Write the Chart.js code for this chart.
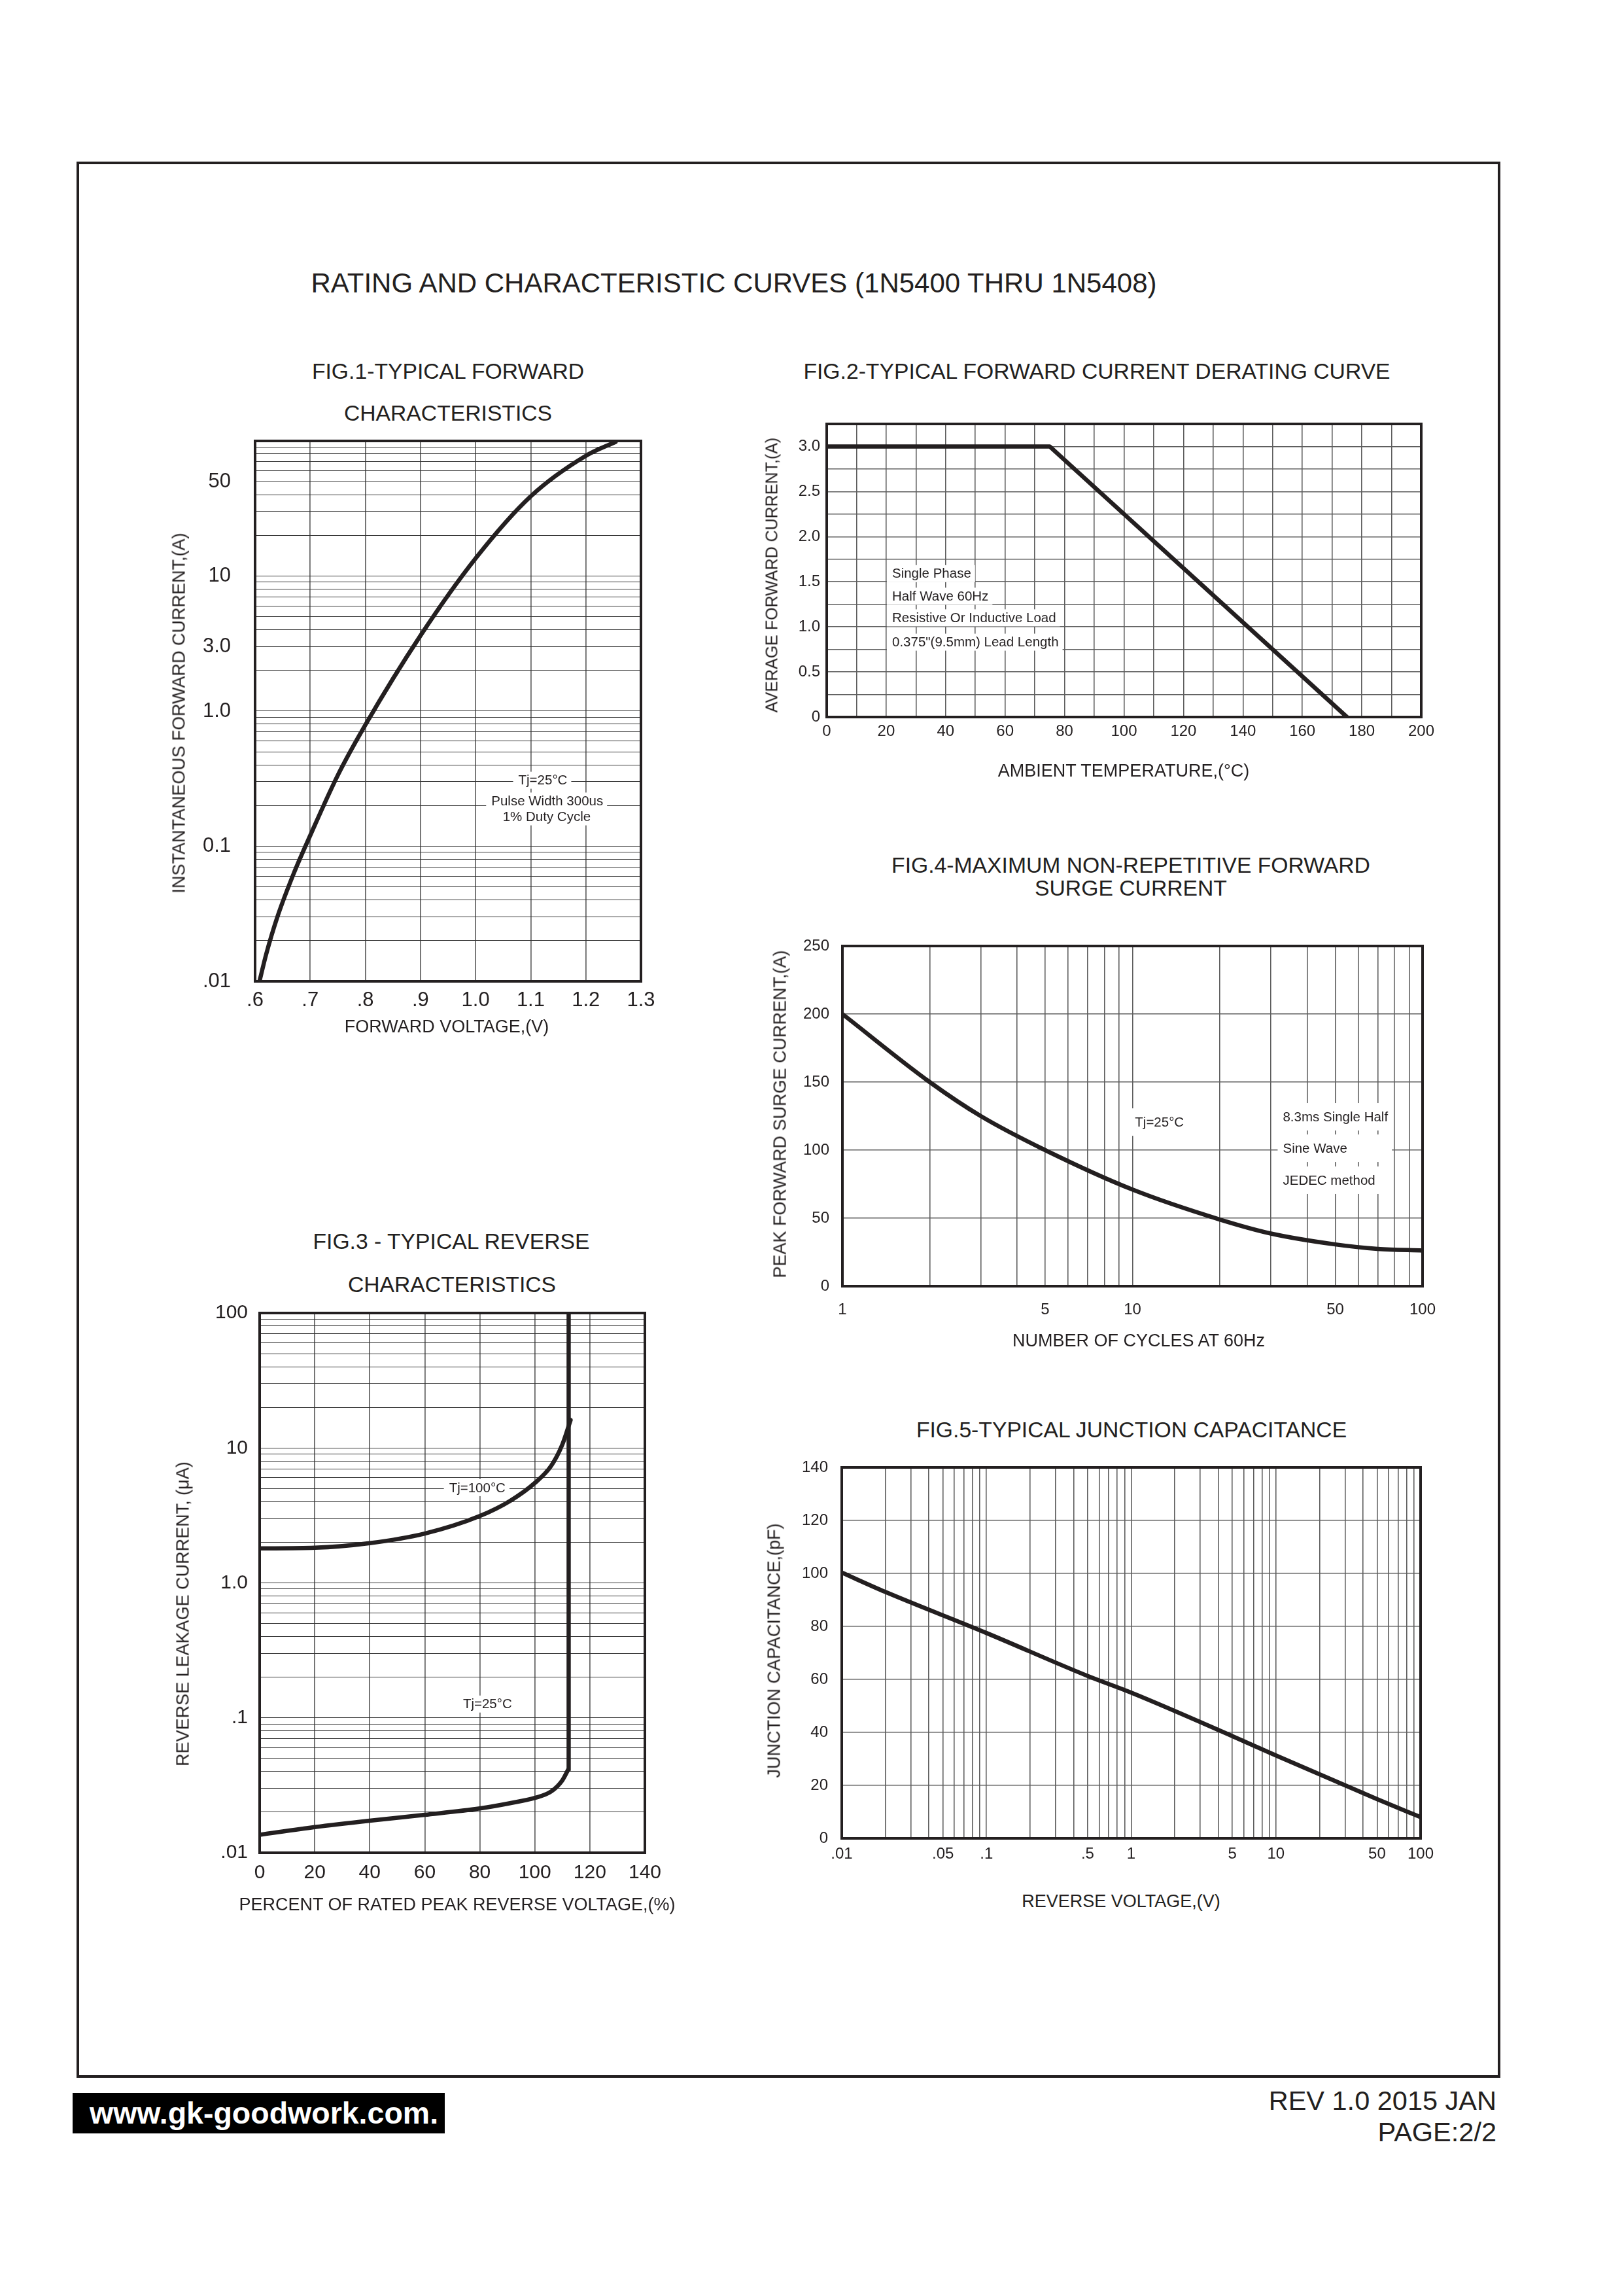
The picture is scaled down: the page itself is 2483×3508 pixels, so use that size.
<!DOCTYPE html>
<html lang="en">
<head>
<meta charset="utf-8">
<title>1N5400 THRU 1N5408 - Rating and Characteristic Curves</title>
<script src="https://cdn.jsdelivr.net/npm/chart.js@4.4.1/dist/chart.umd.min.js"></script>
<style>
  html, body { margin: 0; padding: 0; background: #fff; }
  #page { position: relative; width: 2483px; height: 3508px; overflow: hidden; background: #fff;
          font-family: 'Liberation Sans', Arial, Helvetica, sans-serif; color: #231f20; }
  #frame { position: absolute; left: 117px; top: 247px; width: 2177px; height: 2929px;
           border: 4px solid #231f20; box-sizing: border-box; }
  .t { position: absolute; white-space: nowrap; line-height: 1; transform: translate(-50%, -50%); }
  .v { transform: translate(-50%, -50%) rotate(-90deg); }
  .r { transform: translate(-100%, -50%); }
  canvas { position: absolute; }
  #web { position: absolute; left: 111px; top: 3199px; width: 569px; height: 62px; background: #000;
         color: #fff; font-weight: bold; font-size: 46.5px; line-height: 62px; padding-left: 26px;
         box-sizing: border-box; white-space: nowrap; }
</style>
</head>
<body>
<div id="page">
  <div id="frame"></div>
  <div class="t" style="left:1122px;top:433px;font-size:42px">RATING AND CHARACTERISTIC CURVES (1N5400 THRU 1N5408)</div>

  <!-- FIG.1 -->
  <div class="t" style="left:685px;top:568px;font-size:33.7px">FIG.1-TYPICAL FORWARD</div>
  <div class="t" style="left:685px;top:632px;font-size:33.7px">CHARACTERISTICS</div>
  <canvas id="fig1"></canvas>
  <div class="t" style="left:683px;top:1569px;font-size:27px">FORWARD VOLTAGE,(V)</div>
  <div class="t v" style="left:274px;top:1090px;font-size:27px">INSTANTANEOUS FORWARD CURRENT,(A)</div>

  <!-- FIG.2 -->
  <div class="t" style="left:1677px;top:568px;font-size:33.7px">FIG.2-TYPICAL FORWARD CURRENT DERATING CURVE</div>
  <canvas id="fig2"></canvas>
  <div class="t" style="left:1718px;top:1178px;font-size:27px">AMBIENT TEMPERATURE,(°C)</div>
  <div class="t v" style="left:1180px;top:879px;font-size:25px">AVERAGE FORWARD CURRENT,(A)</div>

  <!-- FIG.4 -->
  <div class="t" style="left:1729px;top:1323px;font-size:33.7px">FIG.4-MAXIMUM NON-REPETITIVE FORWARD</div>
  <div class="t" style="left:1729px;top:1358px;font-size:33.7px">SURGE CURRENT</div>
  <canvas id="fig4"></canvas>
  <div class="t" style="left:1741px;top:2049px;font-size:27px">NUMBER OF CYCLES AT 60Hz</div>
  <div class="t v" style="left:1193px;top:1703px;font-size:27px">PEAK FORWARD SURGE CURRENT,(A)</div>

  <!-- FIG.3 -->
  <div class="t" style="left:690px;top:1898px;font-size:33.7px">FIG.3 - TYPICAL REVERSE</div>
  <div class="t" style="left:691px;top:1964px;font-size:33.7px">CHARACTERISTICS</div>
  <canvas id="fig3"></canvas>
  <div class="t" style="left:699px;top:2911px;font-size:27px">PERCENT OF RATED PEAK REVERSE VOLTAGE,(%)</div>
  <div class="t v" style="left:280px;top:2467px;font-size:27px">REVERSE LEAKAGE CURRENT, (μA)</div>

  <!-- FIG.5 -->
  <div class="t" style="left:1730px;top:2186px;font-size:33.7px">FIG.5-TYPICAL JUNCTION CAPACITANCE</div>
  <canvas id="fig5"></canvas>
  <div class="t" style="left:1714px;top:2906px;font-size:27px">REVERSE VOLTAGE,(V)</div>
  <div class="t v" style="left:1184px;top:2523px;font-size:27px">JUNCTION CAPACITANCE,(pF)</div>

  <!-- footer -->
  <div id="web">www.gk-goodwork.com.</div>
  <div class="t r" style="left:2288px;top:3211px;font-size:41.5px">REV 1.0 2015 JAN</div>
  <div class="t r" style="left:2288px;top:3259px;font-size:41.5px">PAGE:2/2</div>
</div>

<script>
const FONT = "'Liberation Sans', Arial, Helvetica, sans-serif";
const INK = '#231f20';

// FIG.1 - forward characteristics, Tj=25°C
const fig1Voltage = [0.608, 0.62, 0.64, 0.67, 0.70, 0.75, 0.80, 0.90, 1.0, 1.1, 1.2, 1.254];
const fig1Current = [0.01, 0.0158, 0.0296, 0.0627, 0.12, 0.335, 0.79, 3.62, 13.5, 38.9, 77.6, 98.4];
const fig1XTicks = [0.6, 0.7, 0.8, 0.9, 1.0, 1.1, 1.2, 1.3];
const fig1XLabels = ['.6', '.7', '.8', '.9', '1.0', '1.1', '1.2', '1.3'];
const fig1YTicks = [0.01, 0.1, 1, 3, 10, 50];
const fig1YLabels = ['.01', '0.1', '1.0', '3.0', '10', '50'];
const fig1Notes = ['Tj=25°C', 'Pulse Width 300us', '1% Duty Cycle'];
const fig1NoteX = [1.122, 1.130, 1.129];
const fig1NoteY = [0.308, 0.216, 0.165];

// FIG.2 - derating curve
const fig2Temp = [0, 75, 175];
const fig2Current = [3.0, 3.0, 0];
const fig2XTicks = [0, 20, 40, 60, 80, 100, 120, 140, 160, 180, 200];
const fig2XLabels = ['0', '20', '40', '60', '80', '100', '120', '140', '160', '180', '200'];
const fig2YTicks = [0, 0.5, 1.0, 1.5, 2.0, 2.5, 3.0];
const fig2YLabels = ['0', '0.5', '1.0', '1.5', '2.0', '2.5', '3.0'];
const fig2Notes = ['Single Phase', 'Half Wave 60Hz', 'Resistive Or Inductive Load', '0.375"(9.5mm) Lead Length'];
const fig2NoteX = [22, 22, 22, 22];
const fig2NoteY = [1.59, 1.34, 1.10, 0.83];

// FIG.3 - reverse characteristics
const fig3HotPercent = [0, 20, 40, 60, 80, 91, 100, 106, 110, 113];
const fig3HotLeak = [1.80, 1.82, 1.97, 2.32, 3.13, 4.05, 5.5, 7.4, 10.6, 16.1];
const fig3ColdPercent = [0, 20, 40, 60, 80, 91, 100, 106, 110, 112.1];
const fig3ColdLeak = [0.0136, 0.0155, 0.0173, 0.0191, 0.0213, 0.0233, 0.0255, 0.0285, 0.0344, 0.0412];
const fig3BreakPercent = [112.3, 112.3];
const fig3BreakLeak = [0.0412, 100];
const fig3XTicks = [0, 20, 40, 60, 80, 100, 120, 140];
const fig3XLabels = ['0', '20', '40', '60', '80', '100', '120', '140'];
const fig3YTicks = [0.01, 0.1, 1, 10, 100];
const fig3YLabels = ['.01', '.1', '1.0', '10', '100'];
const fig3Notes = ['Tj=100°C', 'Tj=25°C'];
const fig3NoteX = [79.1, 82.8];
const fig3NoteY = [5.08, 0.1265];

// FIG.4 - surge current
const fig4Cycles = [1, 2, 3, 5, 10, 20, 30, 50, 70, 100];
const fig4Current = [200, 150, 125, 100, 71, 49, 38.7, 30.7, 27.4, 26.2];
const fig4XTicks = [1, 5, 10, 50, 100];
const fig4XLabels = ['1', '5', '10', '50', '100'];
const fig4YTicks = [0, 50, 100, 150, 200, 250];
const fig4YLabels = ['0', '50', '100', '150', '200', '250'];
const fig4Notes = ['Tj=25°C', '8.3ms Single Half', 'Sine Wave', 'JEDEC method'];
const fig4NoteX = [10.2, 33.0, 33.0, 33.0];
const fig4NoteY = [120.6, 124.5, 101.4, 77.9];

// FIG.5 - junction capacitance
const fig5Voltage = [0.01, 0.02, 0.1, 0.5, 1, 5, 10, 50, 100];
const fig5Cap = [100.3, 93, 77.5, 61.3, 55, 38.6, 31.3, 14.8, 8];
const fig5XTicks = [0.01, 0.05, 0.1, 0.5, 1, 5, 10, 50, 100];
const fig5XLabels = ['.01', '.05', '.1', '.5', '1', '5', '10', '50', '100'];
const fig5YTicks = [0, 20, 40, 60, 80, 100, 120, 140];
const fig5YLabels = ['0', '20', '40', '60', '80', '100', '120', '140'];

// space kept round each plot area inside its canvas (must exceed the label padding chart.js asks for)
const PAD = { l: 140, r: 70, t: 70, b: 80 };
const GRID_V = { color: '#6a6a6a', width: 1.8 };
const GRID_H = { color: '#333333', width: 1.1 };
const GRID_LIN = { color: '#5e5e5e', width: 1.6 };

function logGrid(min, max) {
  const out = [];
  for (let d = min; d < max * 0.999; d = +(d * 10).toPrecision(6)) {
    for (let m = 1; m < 10; m++) out.push(+(d * m).toPrecision(6));
  }
  out.push(max);
  return out;
}

function linGrid(min, max, step) {
  const out = [];
  for (let k = 0; min + k * step <= max + 1e-9; k++) out.push(+(min + k * step).toFixed(6));
  return out;
}

function labelFor(v, values, labels) {
  const i = values.findIndex(t => Math.abs(t - v) <= Math.abs(t) * 1e-6 + 1e-9);
  return i < 0 ? '' : labels[i];
}

function axis(isX, type, min, max, grid, tickValues, tickLabels, size, padding, style) {
  return {
    type, min, max,
    afterBuildTicks: s => { s.ticks = grid.map(v => ({ value: v })); },
    afterFit: s => { if (isX) s.height = PAD.b; else s.width = PAD.l; },
    border: { display: false },
    grid: { drawTicks: false, color: style.color, lineWidth: style.width },
    ticks: {
      autoSkip: false, maxRotation: 0, minRotation: 0, padding, color: INK,
      font: { family: FONT, size },
      callback: v => labelFor(v, tickValues, tickLabels)
    }
  };
}

function curve(xs, ys, smooth) {
  return {
    data: xs.map((x, i) => ({ x, y: ys[i] })),
    pointRadius: 0, borderColor: INK, borderWidth: 6.5, fill: false,
    tension: smooth ? 0.4 : 0,
    cubicInterpolationMode: smooth ? 'monotone' : 'default',
    borderCapStyle: 'round', borderJoinStyle: 'round'
  };
}

function notes(texts, xs, ys) {
  return texts.map((text, i) => ({ text, x: xs[i], y: ys[i] }));
}

// text notes on a white patch; with `shared` the notes of one x get one common patch width
function notePlugin(items, align, boxH, shared) {
  return {
    id: 'plotNotes',
    beforeDatasetsDraw(chart) {
      const { ctx, scales } = chart;
      ctx.save();
      ctx.font = '20.5px ' + FONT;
      ctx.textBaseline = 'middle';
      ctx.textAlign = 'left';
      const widest = {};
      items.forEach(n => {
        const tw = ctx.measureText(n.text).width;
        widest[n.x] = Math.max(widest[n.x] || 0, tw);
      });
      items.forEach(n => {
        const px = scales.x.getPixelForValue(n.x);
        const py = scales.y.getPixelForValue(n.y);
        const tw = ctx.measureText(n.text).width;
        const left = align === 'left' ? px : px - tw / 2;
        const bw = shared ? widest[n.x] : tw;
        ctx.fillStyle = '#fff';
        ctx.fillRect(left - 8, py - boxH / 2, bw + 14, boxH);
        ctx.fillStyle = INK;
        ctx.fillText(n.text, left, py + 1);
      });
      ctx.restore();
    }
  };
}

const framePlugin = {
  id: 'plotFrame',
  afterDatasetsDraw(chart) {
    const { ctx, chartArea: a } = chart;
    ctx.save();
    ctx.strokeStyle = INK;
    ctx.lineWidth = 4;
    ctx.strokeRect(a.left, a.top, a.right - a.left, a.bottom - a.top);
    ctx.restore();
  }
};

function drawFigure(id, area, datasets, xAxis, yAxis, notePlug) {
  const canvas = document.getElementById(id);
  const w = area.right - area.left + PAD.l + PAD.r;
  const h = area.bottom - area.top + PAD.t + PAD.b;
  canvas.width = w;
  canvas.height = h;
  canvas.style.left = (area.left - PAD.l) + 'px';
  canvas.style.top = (area.top - PAD.t) + 'px';
  canvas.style.width = w + 'px';
  canvas.style.height = h + 'px';
  return new Chart(canvas, {
    type: 'line',
    data: { datasets },
    options: {
      responsive: false, animation: false, devicePixelRatio: 1,
      layout: { padding: { left: 0, right: PAD.r, top: PAD.t, bottom: 0 } },
      plugins: { legend: { display: false }, tooltip: { enabled: false } },
      scales: { x: xAxis, y: yAxis }
    },
    plugins: [notePlug, framePlugin]
  });
}

drawFigure('fig1', { left: 390, top: 674, right: 980, bottom: 1500 },
  [curve(fig1Voltage, fig1Current, true)],
  axis(true, 'linear', 0.6, 1.3, fig1XTicks, fig1XTicks, fig1XLabels, 31, 11, GRID_V),
  axis(false, 'logarithmic', 0.01, 100, logGrid(0.01, 100), fig1YTicks, fig1YLabels, 31, 37, GRID_H),
  notePlugin(notes(fig1Notes, fig1NoteX, fig1NoteY), 'center', 26, false));

drawFigure('fig2', { left: 1264, top: 648, right: 2173, bottom: 1096 },
  [curve(fig2Temp, fig2Current, false)],
  axis(true, 'linear', 0, 200, linGrid(0, 200, 10), fig2XTicks, fig2XLabels, 24, 8, GRID_LIN),
  axis(false, 'linear', 0, 3.25, linGrid(0, 3.25, 0.25), fig2YTicks, fig2YLabels, 24, 10, GRID_LIN),
  notePlugin(notes(fig2Notes, fig2NoteX, fig2NoteY), 'left', 26, false));

drawFigure('fig3', { left: 397, top: 2007, right: 986, bottom: 2832 },
  [curve(fig3HotPercent, fig3HotLeak, true),
   curve(fig3ColdPercent, fig3ColdLeak, true),
   curve(fig3BreakPercent, fig3BreakLeak, false)],
  axis(true, 'linear', 0, 140, fig3XTicks, fig3XTicks, fig3XLabels, 30, 13, GRID_V),
  axis(false, 'logarithmic', 0.01, 100, logGrid(0.01, 100), fig3YTicks, fig3YLabels, 30, 18, GRID_H),
  notePlugin(notes(fig3Notes, fig3NoteX, fig3NoteY), 'center', 26, false));

drawFigure('fig4', { left: 1288, top: 1446, right: 2175, bottom: 1966 },
  [curve(fig4Cycles, fig4Current, true)],
  axis(true, 'logarithmic', 1, 100, logGrid(1, 100), fig4XTicks, fig4XLabels, 24, 22, GRID_LIN),
  axis(false, 'linear', 0, 250, fig4YTicks, fig4YTicks, fig4YLabels, 24, 20, GRID_LIN),
  notePlugin(notes(fig4Notes, fig4NoteX, fig4NoteY), 'left', 42, true));

drawFigure('fig5', { left: 1287, top: 2243, right: 2172, bottom: 2810 },
  [curve(fig5Voltage, fig5Cap, true)],
  axis(true, 'logarithmic', 0.01, 100, logGrid(0.01, 100), fig5XTicks, fig5XLabels, 24, 10, GRID_LIN),
  axis(false, 'linear', 0, 140, fig5YTicks, fig5YTicks, fig5YLabels, 24, 21, GRID_LIN),
  notePlugin([], 'left', 26, false));
</script>
</body>
</html>
